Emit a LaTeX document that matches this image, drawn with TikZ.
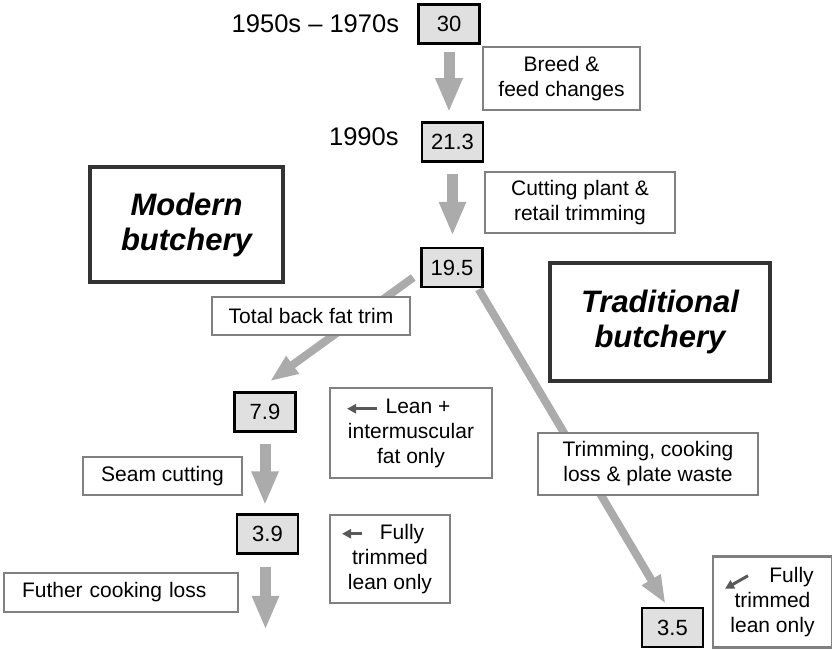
\documentclass[tikz,border=0pt]{standalone}
\usepackage{fontspec}
\setmainfont{Liberation Sans}
\usetikzlibrary{arrows.meta,backgrounds,calc,positioning}
\definecolor{flowgray}{gray}{0.67}
\definecolor{pointgray}{gray}{0.35}
\definecolor{numfill}{gray}{0.88}
\definecolor{noteedge}{gray}{0.5}
\tikzset{%
	numbox/.style   = {draw=black, fill=numfill, line width=2.5pt, rectangle, minimum width=61pt, minimum height=39pt, inner sep=0pt, font=\fontsize{22}{26}\selectfont}, % yield value
	note/.style     = {draw=noteedge, fill=white, line width=2.5pt, rectangle, align=center, inner sep=0pt, font=\fontsize{21}{25}\selectfont}, % step label
	title/.style    = {draw=black!80, fill=white, line width=4pt, rectangle, align=center, inner sep=0pt, font=\fontsize{31}{35}\selectfont\bfseries\itshape},
	era/.style      = {inner sep=0pt, font=\fontsize{25.5}{30}\selectfont},
	flow/.style     = {draw=flowgray, line width=11pt, -{Triangle[length=34pt,width=25pt]}},
	slant/.style    = {draw=flowgray, line width=8pt, -{Triangle[length=28pt,width=20pt]}},
	pointer/.style  = {draw=pointgray, line width=3pt, -{Triangle[length=9pt,width=9pt]}},
}

\begin{document}
\begin{tikzpicture}[x=1pt,y=-1pt]
	\useasboundingbox (0,0) rectangle (832,650);
	% values
	\node [numbox] (n30)  at (449,24)      {30};
	\node [numbox] (n213) at (452.5,142)   {21.3};
	\node [numbox] (n195) at (452,267.5)   {19.5};
	\node [numbox] (n79)  at (265,412)     {7.9};
	\node [numbox] (n39)  at (267.5,534)   {3.9};
	\node [numbox] (n35)  at (672.5,627.5) {3.5};
	\node [era] (era1) [left=18pt of n30]  {1950s -- 1970s};
	\node [era, yshift=5pt] (era2) [left=22pt of n213] {1990s};
	% labels
	\node [note, minimum width=157pt, minimum height=63pt] (breed)    at (561.5,78.5) {Breed \&\\feed changes};
	\node [note, minimum width=190pt, minimum height=61pt] (cutting)  at (580,202.5)  {Cutting plant \&\\retail trimming};
	\node [note, minimum width=198pt, minimum height=38pt] (backfat)  at (311,316)    {Total back fat trim};
	\node [note, minimum width=162pt, minimum height=90pt] (lean)     at (411,433)    {\hspace*{14pt}Lean +\\intermuscular\\fat only};
	\node [note, minimum width=159pt, minimum height=38pt] (seam)     at (162.5,476)  {Seam cutting};
	\node [note, minimum width=120pt, minimum height=88pt] (fullyA)   at (390,559)    {\hspace*{24pt}Fully\\trimmed\\lean only};
	\node [note, minimum width=234pt, minimum height=39pt, text width=198pt, align=left] (futher) at (121,592.5) {Futher cooking loss};
	\node [note, minimum width=220pt, minimum height=62pt] (trimming) at (648,464)    {Trimming, cooking\\loss \& plate waste};
	\node [note, minimum width=119pt, minimum height=91pt] (fullyB)   at (772.5,602)  {\hspace*{38pt}Fully\\trimmed\\lean only};
	\node [title, minimum width=193pt, minimum height=115pt] (modern)      at (186.5,224.5) {Modern\\butchery};
	\node [title, minimum width=220pt, minimum height=118pt] (traditional) at (660,322)     {Traditional\\butchery};
	\coordinate (tail) at ($(n39.south)+(-2,75)$);
	% flows
	\begin{scope}[on background layer]
		\draw [flow, shorten <=7pt, shorten >=9pt] (n30.south) -- (n30.south |- n213.north);
		\draw [flow, shorten <=11pt, shorten >=11pt] (n213.south) -- (n213.south |- n195.north);
		\draw [slant] ($(n195.west)+(-7,10)$) -- ($(n79.north)+(5,-10)$);
		\draw [flow, shorten <=11pt, shorten >=8pt] (n79.south) -- (n79.south |- n39.north);
		\draw [flow] ($(n39.south)+(-2,12)$) -- (tail);
		\draw [slant] ($(n195.south east)+(-5,1)$) -- ($(n35.north)+(-7,-3)$);
	\end{scope}
	% pointers
	\draw [pointer] ($(lean.north)+(-34,22)$) -- ($(lean.north)+(-64,22)$);
	\draw [pointer] ($(fullyA.north)+(-28,20)$) -- ($(fullyA.north)+(-48,20)$);
	\draw [pointer] ($(fullyB.north)+(-24.5,20.5)$) -- ($(fullyB.north)+(-47.5,33.5)$);
\end{tikzpicture}
\end{document}
